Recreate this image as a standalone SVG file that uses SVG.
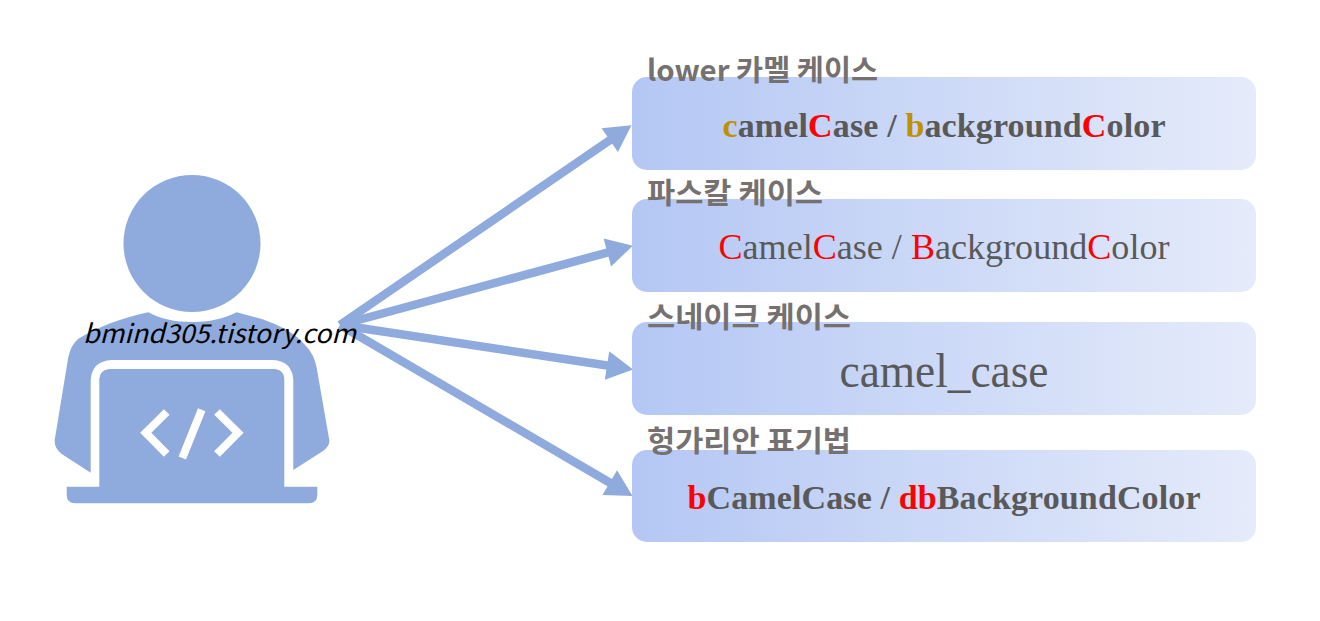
<svg xmlns="http://www.w3.org/2000/svg" width="1320" height="621" viewBox="0 0 1320 621">
<style>
.box{fill:url(#g)}
.lb{font-family:"Noto Sans CJK KR","Noto Sans",sans-serif;font-weight:700;font-size:29px;fill:#767171}
.t{font-family:"Liberation Serif","Noto Sans CJK KR",serif;font-size:36px;fill:#595959;text-anchor:middle}
.b{font-weight:700;font-size:34px}
.r{fill:#FF0000}
.y{fill:#BF9000}
.a{stroke:#8FAADC;stroke-width:8.500;fill:none;marker-end:url(#h)}
.fg{fill:#8FAADC}
.code{fill:none;stroke:#fff;stroke-width:8;stroke-linejoin:miter}
</style>
<defs>
<linearGradient id="g" x1="0" y1="0" x2="1" y2="0"><stop offset="0" stop-color="#B4C7F4"/><stop offset="1" stop-color="#E5EBFA"/></linearGradient>
<marker id="h" markerUnits="strokeWidth" markerWidth="3.2" markerHeight="3.4" refX="1.6" refY="1.7" orient="auto" overflow="visible"><path d="M0 0L3.1 1.7L0 3.4z" fill="#8FAADC"/></marker>
</defs>
<rect width="1320" height="621" fill="#fff"/>
<g id="connectors">
<line class="a" x1="340" y1="325" x2="621" y2="132.500"/>
<line class="a" x1="340" y1="325" x2="620.500" y2="249"/>
<line class="a" x1="340" y1="325" x2="620.500" y2="367.500"/>
<line class="a" x1="340" y1="325" x2="621.500" y2="489.500"/>
</g>
<g id="person">
<circle class="fg" cx="192" cy="243.500" r="68.500"/>
<path class="fg" d="M148.300 312.300C160 319 175 322 192 322S224 319 236.600 312.300L262 319C281 326 295 333 306 346Q314 354 316.700 368L329.300 440Q330 446 323 451L293.300 470V380Q292 361 273 360H111.700Q92 361 90.700 380V472.700L61.700 454Q54 448 54.700 440L68.300 357Q71 345 78 339C95 328 122 318 148.300 312.300Z"/>
<path class="fg" d="M99.300 379Q100 370 109 369H275Q284 370 284.300 379V486.700H317.300V495.300Q317 503 309 503.300H75Q67 503 66.700 495.300V486.700H99.300Z"/>
<path class="code" d="M166.700 412L145.800 432.700L166.700 454M217 412L238 432.700L217 454M201.700 409.700L182.300 458"/>
<text x="83" y="343" font-family="'Noto Sans CJK KR','Noto Sans',sans-serif" font-style="italic" font-size="26" fill="#000" textLength="273" lengthAdjust="spacingAndGlyphs">bmind305.tistory.com</text>
</g>
<g id="node-lower">
<rect class="box" x="632" y="77" width="624" height="93" rx="15"/>
<text class="lb" x="647" y="81" textLength="231" lengthAdjust="spacingAndGlyphs">lower 카멜 케이스</text>
<text class="t b" x="944" y="137" textLength="443"><tspan class="y">c</tspan>amel<tspan class="r">C</tspan>ase / <tspan class="y">b</tspan>ackground<tspan class="r">C</tspan>olor</text>
</g>
<g id="node-pascal">
<rect class="box" x="632" y="199" width="624" height="93" rx="15"/>
<text class="lb" x="647" y="204" textLength="176" lengthAdjust="spacingAndGlyphs">파스칼 케이스</text>
<text class="t" x="944" y="259" textLength="451" lengthAdjust="spacingAndGlyphs"><tspan class="r">C</tspan>amel<tspan class="r">C</tspan>ase / <tspan class="r">B</tspan>ackground<tspan class="r">C</tspan>olor</text>
</g>
<g id="node-snake">
<rect class="box" x="632" y="322" width="624" height="93" rx="15"/>
<text class="lb" x="647" y="328" textLength="204" lengthAdjust="spacingAndGlyphs">스네이크 케이스</text>
<text class="t" x="944" y="387" style="font-size:48px" textLength="209" lengthAdjust="spacingAndGlyphs">camel_case</text>
</g>
<g id="node-hungarian">
<rect class="box" x="632" y="450" width="624" height="92" rx="15"/>
<text class="lb" x="647" y="452" textLength="204" lengthAdjust="spacingAndGlyphs">헝가리안 표기법</text>
<text class="t b" x="944" y="509" textLength="513"><tspan class="r">b</tspan>CamelCase / <tspan class="r">db</tspan>BackgroundColor</text>
</g>
</svg>
